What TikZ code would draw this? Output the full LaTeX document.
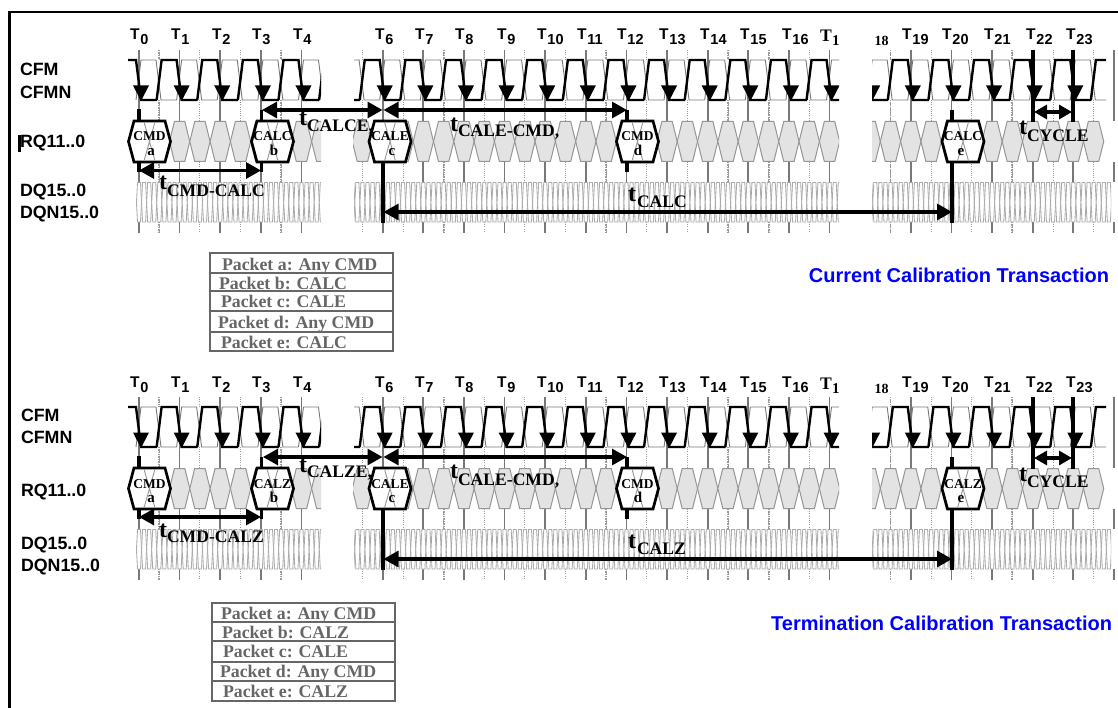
\documentclass[tikz,border=0pt]{standalone}
\usepackage{fontspec}
\setmainfont{Liberation Serif}
\newfontfamily\arial{Liberation Sans}
\usetikzlibrary{arrows.meta}
\definecolor{tickgray}{HTML}{787878}
\definecolor{dotgray}{HTML}{9A9A9A}
\definecolor{hexfill}{HTML}{E3E3E3}
\definecolor{hexedge}{HTML}{969696}
\definecolor{dqedge}{HTML}{ABABAB}
\definecolor{tablegray}{HTML}{666666}
\tikzset{
  txt/.style={inner sep=0pt,outer sep=0pt,anchor=base west},
  sans/.style={txt,font=\arial\bfseries\fontsize{17.8}{17.8}\selectfont},
  clocklabel/.style={txt,font=\arial\bfseries\fontsize{15.5}{15.5}\selectfont},
  tmain/.style={txt,font=\bfseries\fontsize{24}{24}\selectfont},
  tsub/.style={txt,font=\bfseries\fontsize{17.6}{17.6}\selectfont},
  hexword/.style={inner sep=0pt,outer sep=0pt,anchor=base,font=\bfseries\fontsize{13.5}{13.5}\selectfont},
  hexletter/.style={inner sep=0pt,outer sep=0pt,anchor=base,font=\bfseries\fontsize{15}{15}\selectfont},
  rowtext/.style={txt,text=tablegray,font=\bfseries\fontsize{17.8}{17.8}\selectfont},
  bluetitle/.style={inner sep=0pt,outer sep=0pt,anchor=base east,text=blue,font=\arial\bfseries\fontsize{20}{20}\selectfont},
  tickline/.style={draw=tickgray,line width=1.7pt},
  dotline/.style={draw=dotgray,line width=0.9pt,dash pattern=on 1pt off 1.2pt},
  dotthick/.style={draw=dotgray,line width=1.9pt,dash pattern=on 0.8pt off 0.9pt},
  wavek/.style={draw=black,line width=2.4pt,line join=miter},
  waveg/.style={draw=tickgray,line width=0.9pt},
  chainhex/.style={draw=hexedge,fill=hexfill,line width=1pt},
  dqhex/.style={draw=dqedge,fill=white,line width=0.85pt},
  boldhex/.style={draw=black,fill=white,line width=2.7pt,line join=miter},
  bar/.style={draw=black,line width=3.1pt},
  span/.style={draw=black,line width=3.1pt,{Triangle[length=15pt,width=16pt]}-{Triangle[length=15pt,width=16pt]}},
  table frame/.style={draw=tablegray,line width=1.9pt},
}
% clock label: name, x, number
\newcommand\clk[3]{\node[clocklabel] (#1) at (#2,40) {T\kern1pt\raisebox{-5pt}{\fontsize{14.5}{14.5}\selectfont #3}};}
% bold packet hexagon: name, centre, word, letter, letter x
\newcommand\packet[5]{%
  \draw[boldhex] (#2-15.5,121) -- (#2+15.5,121) -- (#2+21,141.5) -- (#2+15.5,162) -- (#2-15.5,162) -- (#2-21,141.5) -- cycle;
  \draw[waveg,draw=hexedge] (#2-5.5,122) -- (#2+5.5,161) (#2+5.5,122) -- (#2-5.5,161);
  \node[hexword] (#1w) at (#2,141) {#3};
  \node[hexletter] (#1l) at (#5,155.5) {#4};
}
% t label: name, x, t baseline, sub x, sub baseline, subscript
\newcommand\tlab[6]{%
  \node[tmain] (#1t) at (#2,#3) {t};
  \node[tsub] (#1s) at (#4,#5) {#6};
}
\newcommand\rowlab[4]{\node[rowtext] (#1) at (#2,#3) {#4};}
\newcommand\common[1]{%
  % ticks
  \foreach \i in {0,1,2,3,4,6,7,8,9,10,11,12,13,14,15,16,17,19,20,21,22,23,24}{
    \pgfmathsetmacro\tx{139+40.62*\i}
    \draw[tickline] (\tx,50) -- (\tx,121) (\tx,162) -- (\tx,182) (\tx,222) -- (\tx,233);
  }
  \foreach \i in {0,1,2,3,5,6,7,8,9,10,11,12,13,14,15,16,18,19,20,21,22,23}{
    \pgfmathsetmacro\tx{159.3+40.62*\i}
    \draw[dotline] (\tx,50) -- (\tx,60) (\tx,100) -- (\tx,121) (\tx,162) -- (\tx,182) (\tx,222) -- (\tx,233);
  }
  \foreach \i in {0,3,7,11,14,15,18,21}{
    \pgfmathsetmacro\tx{159.3+40.62*\i}
    \draw[dotthick] (\tx,50) -- (\tx,60) (\tx,100) -- (\tx,121) (\tx,162) -- (\tx,182) (\tx,222) -- (\tx,233);
  }
  % clock waveforms
  \begin{scope}
    \clip (128,50) rectangle (321,110) (354,50) rectangle (839,110) (872,50) rectangle (1106,110);
    \foreach \i in {0,...,24}{
      \pgfmathsetmacro\tx{139+40.62*\i}
      \draw[waveg] (\tx-3,100) -- (\tx+2,60) -- (\tx+17,60) -- (\tx+22,100) -- (\tx+37.6,100);
    }
    \foreach \i in {0,...,24}{
      \pgfmathsetmacro\tx{139+40.62*\i}
      \draw[wavek] (\tx-23,100) -- (\tx-18,60) -- (\tx-3,60) -- (\tx+2,100) -- (\tx+18,100);
      \fill[black] (\tx+2,101) -- (\tx-6,85.5) -- (\tx+10,85.5) -- cycle;
    }
  \end{scope}
  % request chain
  \begin{scope}
    \clip (127,119) rectangle (321,164) (353,119) rectangle (839,164) (872,119) rectangle (1105,164);
    \foreach \k in {0,...,47}{
      \pgfmathsetmacro\c{139+20.31*\k}
      \draw[chainhex] (\c-5.2,121.5) -- (\c+5.2,121.5) -- (\c+10.15,141.5) -- (\c+5.2,161.5) -- (\c-5.2,161.5) -- (\c-10.15,141.5) -- cycle;
    }
  \end{scope}
  % data band
  \begin{scope}
    \clip (136,180) rectangle (321,224) (354,180) rectangle (839,224) (872,180) rectangle (1111,224);
    \foreach \k in {0,...,192}{
      \pgfmathsetmacro\c{139+5.078*\k}
      \draw[dqhex] (\c-1.5,182.5) -- (\c+1.5,182.5) -- (\c+2.54,202.5) -- (\c+1.5,222) -- (\c-1.5,222) -- (\c-2.54,202.5) -- cycle;
    }
  \end{scope}
  % clock labels
  \clk{#1c0}{130}{0}
  \clk{#1c1}{171}{1}
  \clk{#1c2}{212}{2}
  \clk{#1c3}{252}{3}
  \clk{#1c4}{293}{4}
  \clk{#1c6}{375}{6}
  \clk{#1c7}{415}{7}
  \clk{#1c8}{455}{8}
  \clk{#1c9}{497}{9}
  \clk{#1c10}{537}{10}
  \clk{#1c11}{577}{11}
  \clk{#1c12}{617}{12}
  \clk{#1c13}{659}{13}
  \clk{#1c14}{700}{14}
  \clk{#1c15}{740}{15}
  \clk{#1c16}{782}{16}
  \node[txt,font=\bfseries\fontsize{17.6}{17.6}\selectfont] (#1c17) at (820,42) {T};
  \node[txt,font=\bfseries\fontsize{15}{15}\selectfont] (#1c17s) at (832,46) {1};
  \node[txt,font=\bfseries\fontsize{14}{14}\selectfont] (#1c18s) at (874.5,46) {18};
  \clk{#1c19}{902}{19}
  \clk{#1c20}{942}{20}
  \clk{#1c21}{984}{21}
  \clk{#1c22}{1026}{22}
  \clk{#1c23}{1066}{23}
}
\begin{document}
\begin{tikzpicture}[x=1pt,y=-1pt]
\useasboundingbox (0,0) rectangle (1118,708);
\fill[white] (0,0) rectangle (1118,708);
\coordinate (frameA) at (9.5,708);
\coordinate (frameB) at (9.5,12);
\coordinate (frameC) at (1118,12);
\draw[black,line width=2.2pt] (frameA) -- (frameB) -- (frameC);

% ===== upper panel =====
\common{u}
\node[sans] (ucfm) at (20,76) {CFM};
\node[sans] (ucfmn) at (20,98.5) {CFMN};
\node[sans] (urq) at (20,148) {RQ11..0};
\fill[black] (18,135) rectangle (21,152);
\node[sans] (udq) at (20,197) {DQ15..0};
\node[sans] (udqn) at (20,219) {DQN15..0};
\packet{ua}{149.5}{CMD}{a}{151}
\packet{ub}{272.5}{CALC}{b}{274}
\packet{uc}{390}{CALE}{c}{392}
\packet{ud}{637.5}{CMD}{d}{638}
\packet{ue}{963}{CALC}{e}{961}

\coordinate (u0a) at (139,109); \coordinate (u0b) at (139,122);
\coordinate (u0c) at (139,161); \coordinate (u0d) at (139,172);
\coordinate (u3a) at (261.5,110); \coordinate (u3b) at (261.5,122);
\coordinate (u3c) at (261.5,161); \coordinate (u3d) at (261.5,172);
\coordinate (u6a) at (383,161); \coordinate (u6b) at (383,223);
\coordinate (u12a) at (627,110); \coordinate (u12b) at (627,122);
\coordinate (u12c) at (627,161); \coordinate (u12d) at (627,172);
\coordinate (u20a) at (952,110); \coordinate (u20b) at (952,122);
\coordinate (u20c) at (952,161); \coordinate (u20d) at (952,223);
\coordinate (u22a) at (1033,50); \coordinate (u22b) at (1033,122);
\coordinate (u23a) at (1073,50); \coordinate (u23b) at (1073,122);
\foreach \p/\q in {u0a/u0b,u0c/u0d,u3a/u3b,u3c/u3d,u6a/u6b,u12a/u12b,u12c/u12d,u20a/u20b,u20c/u20d,u22a/u22b,u23a/u23b}{\draw[bar] (\p) -- (\q);}
\coordinate (uL1) at (139,170.5); \coordinate (uR1) at (261,170.5);
\coordinate (uL2) at (262,110); \coordinate (uR2) at (382.5,110);
\coordinate (uL3) at (383.5,110); \coordinate (uR3) at (627,110);
\coordinate (uL4) at (383.5,212); \coordinate (uR4) at (952,212);
\coordinate (uL5) at (1034,112); \coordinate (uR5) at (1072,112);
\foreach \p/\q in {uL1/uR1,uL2/uR2,uL3/uR3,uL4/uR4}{\draw[span] (\p) -- (\q);}
\draw[bar,{Triangle[length=13pt,width=14pt]}-{Triangle[length=13pt,width=14pt]}] (uL5) -- (uR5);

\tlab{ulcc}{159}{190}{167}{197}{CMD-CALC}
\tlab{ulce}{299}{126}{307}{132}{CALCE,}
\tlab{ulem}{450}{132}{458}{137}{CALE-CMD,}
\tlab{ulc}{628}{202}{637}{208}{CALC}
\tlab{uly}{1019}{135}{1027}{142}{CYCLE}

\node[bluetitle] (utitle) at (1109,283) {Current Calibration Transaction};

\coordinate (utA) at (210,253); \coordinate (utB) at (393,351);
\draw[table frame] (utA) rectangle (utB);
\foreach \r in {273,291,311,332}{\draw[table frame] (210,\r) -- (393,\r);}
\rowlab{ur1}{222}{271}{Packet a: Any CMD}
\rowlab{ur2}{219}{290}{Packet b: CALC}
\rowlab{ur3}{221}{308}{Packet c: CALE}
\rowlab{ur4}{218}{328}{Packet d: Any CMD}
\rowlab{ur5}{221}{348}{Packet e: CALC}

% ===== lower panel =====
\begin{scope}[shift={(0,347)}]
\common{l}
\node[sans] (lcfm) at (21,74) {CFM};
\node[sans] (lcfmn) at (21,96) {CFMN};
\node[sans] (lrq) at (21,149) {RQ11..0};
\node[sans] (ldq) at (21,202) {DQ15..0};
\node[sans] (ldqn) at (21,224) {DQN15..0};
\packet{la}{149.5}{CMD}{a}{151}
\packet{lb}{272.5}{CALZ}{b}{274}
\packet{lc}{390}{CALE}{c}{392}
\packet{ld}{637.5}{CMD}{d}{638}
\packet{le}{963}{CALZ}{e}{961}

\coordinate (l0a) at (139,109); \coordinate (l0b) at (139,122);
\coordinate (l0c) at (139,161); \coordinate (l0d) at (139,172);
\coordinate (l3a) at (261.5,110); \coordinate (l3b) at (261.5,122);
\coordinate (l3c) at (261.5,161); \coordinate (l3d) at (261.5,172);
\coordinate (l6a) at (383,161); \coordinate (l6b) at (383,223);
\coordinate (l12a) at (627,110); \coordinate (l12b) at (627,122);
\coordinate (l12c) at (627,161); \coordinate (l12d) at (627,172);
\coordinate (l20a) at (952,110); \coordinate (l20b) at (952,122);
\coordinate (l20c) at (952,161); \coordinate (l20d) at (952,223);
\coordinate (l22a) at (1033,50); \coordinate (l22b) at (1033,122);
\coordinate (l23a) at (1073,50); \coordinate (l23b) at (1073,122);
\foreach \p/\q in {l0a/l0b,l0c/l0d,l3a/l3b,l3c/l3d,l6a/l6b,l12a/l12b,l12c/l12d,l20a/l20b,l20c/l20d,l22a/l22b,l23a/l23b}{\draw[bar] (\p) -- (\q);}
\coordinate (lL1) at (139,170); \coordinate (lR1) at (261,170);
\coordinate (lL2) at (263,110); \coordinate (lR2) at (382.5,110);
\coordinate (lL3) at (383.5,110); \coordinate (lR3) at (627,110);
\coordinate (lL4) at (383.5,212); \coordinate (lR4) at (952,212);
\coordinate (lL5) at (1034,111); \coordinate (lR5) at (1072,111);
\foreach \p/\q in {lL1/lR1,lL2/lR2,lL3/lR3,lL4/lR4}{\draw[span] (\p) -- (\q);}
\draw[bar,{Triangle[length=13pt,width=14pt]}-{Triangle[length=13pt,width=14pt]}] (lL5) -- (lR5);

\tlab{llcc}{159}{190}{167}{195}{CMD-CALZ}
\tlab{llce}{299}{125}{307}{130}{CALZE,}
\tlab{llem}{450}{131}{458}{138}{CALE-CMD,}
\tlab{llc}{628}{201}{637}{207}{CALZ}
\tlab{lly}{1019}{134}{1027}{140.5}{CYCLE}
\end{scope}

\node[bluetitle] (ltitle) at (1112,630) {Termination Calibration Transaction};

\coordinate (ltA) at (212,603); \coordinate (ltB) at (395,701);
\draw[table frame] (ltA) rectangle (ltB);
\foreach \r in {622,641,662,681}{\draw[table frame] (212,\r) -- (395,\r);}
\rowlab{lr1}{221}{619}{Packet a: Any CMD}
\rowlab{lr2}{222}{638}{Packet b: CALZ}
\rowlab{lr3}{223}{657}{Packet c: CALE}
\rowlab{lr4}{220}{677}{Packet d: Any CMD}
\rowlab{lr5}{223}{697}{Packet e: CALZ}
\end{tikzpicture}
\end{document}
